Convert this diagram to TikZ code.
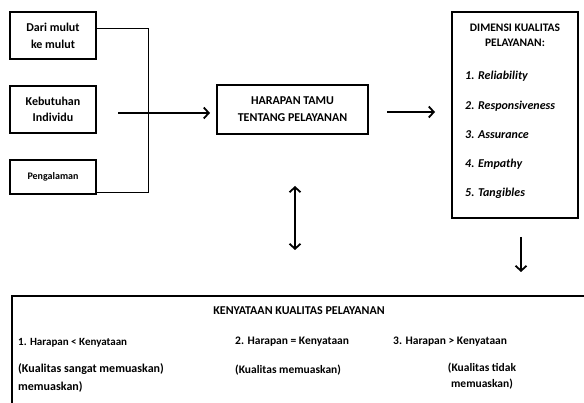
\documentclass[tikz,border=0pt]{standalone}
\usepackage{fontspec}
\setmainfont{Carlito}
\usetikzlibrary{arrows.meta}
\begin{document}
\begin{tikzpicture}[x=1pt,y=-1pt,
  box/.style={draw,line width=1.7pt,inner sep=0pt,align=center},
  txt/.style={font=\bfseries\fontsize{11.5}{16}\selectfont,inner sep=0pt},
  itx/.style={font=\bfseries\itshape\fontsize{12}{16}\selectfont,inner sep=0pt,anchor=west},
  link/.style={line width=0.9pt},
  tip/.tip={Straight Barb[length=5pt,width=11pt,line width=1.8pt]},
  arr/.style={line width=1.8pt,-tip},
  darr/.style={line width=1.8pt,tip-tip}
]
\clip (0,0) rectangle (584,403);
\fill[white] (0,0) rectangle (584,403);

% left boxes
\node[box,minimum width=86pt,minimum height=47pt,font=\bfseries\fontsize{12}{17}\selectfont] (dari) at (53,35.5) {Dari mulut\\ke mulut};
\node[box,minimum width=86pt,minimum height=47pt,font=\bfseries\fontsize{12}{16}\selectfont] (kebutuhan) at (53,109.5) {Kebutuhan\\Individu};
\node[box,minimum width=86pt,minimum height=34pt,font=\bfseries\fontsize{10}{12}\selectfont] (pengalaman) at (53,177) {Pengalaman};

% collector lines
\coordinate (jtop) at (148,28);
\coordinate (jbot) at (148,192);
\draw[link] (dari.east |- jtop) -- (jtop) -- (jbot) -- (pengalaman.east |- jbot);

% center box
\node[box,minimum width=151pt,minimum height=49pt,font=\bfseries\fontsize{12}{17}\selectfont] (harapan) at (292.5,109.5) {HARAPAN TAMU\\TENTANG PELAYANAN};

\coordinate (a1s) at (118,113);
\coordinate (a1e) at (210,113);
\draw[arr] (a1s) -- (a1e);

% right box
\node[box,minimum width=126pt,minimum height=206pt] (dimensi) at (515,115) {};
\node[txt,align=center,font=\bfseries\fontsize{11.5}{15}\selectfont] (dimtitle) at (515,35.5) {DIMENSI KUALITAS\\PELAYANAN:};
\node[itx] (d1) at (465,76) {1. Reliability};
\node[itx] (d2) at (465,106) {2. Responsiveness};
\node[itx] (d3) at (465,135) {3. Assurance};
\node[itx] (d4) at (465,164) {4. Empathy};
\node[itx] (d5) at (465,193) {5. Tangibles};

\coordinate (a2s) at (387,112);
\coordinate (a2e) at (435,112);
\draw[arr] (a2s) -- (a2e);

% vertical arrows
\coordinate (v1t) at (295,186);
\coordinate (v1b) at (295,250);
\draw[darr] (v1t) -- (v1b);
\coordinate (v2t) at (521,237);
\coordinate (v2b) at (521,272);
\draw[arr] (v2t) -- (v2b);

% bottom box
\node[box,anchor=north west,minimum width=620pt,minimum height=140pt] (kenyataan) at (11,295) {};
\node[txt,font=\bfseries\fontsize{12}{16}\selectfont] (ktitle) at (299,311) {KENYATAAN KUALITAS PELAYANAN};
\node[txt,anchor=west,font=\bfseries\fontsize{11}{16}\selectfont] (h1) at (18,343) {1. Harapan < Kenyataan};
\node[txt,anchor=north west,align=left,font=\bfseries\fontsize{12}{18}\selectfont] (k1) at (18,363) {(Kualitas sangat memuaskan)\\memuaskan)};
\node[txt,anchor=west] (h2) at (235,342) {2. Harapan = Kenyataan};
\node[txt,anchor=west] (k2) at (235,370) {(Kualitas memuaskan)};
\node[txt,anchor=west] (h3) at (393,342) {3. Harapan > Kenyataan};
\node[txt,anchor=north,align=center,font=\bfseries\fontsize{11.5}{16}\selectfont] (k3) at (482,363) {(Kualitas tidak\\memuaskan)};
\end{tikzpicture}
\end{document}
